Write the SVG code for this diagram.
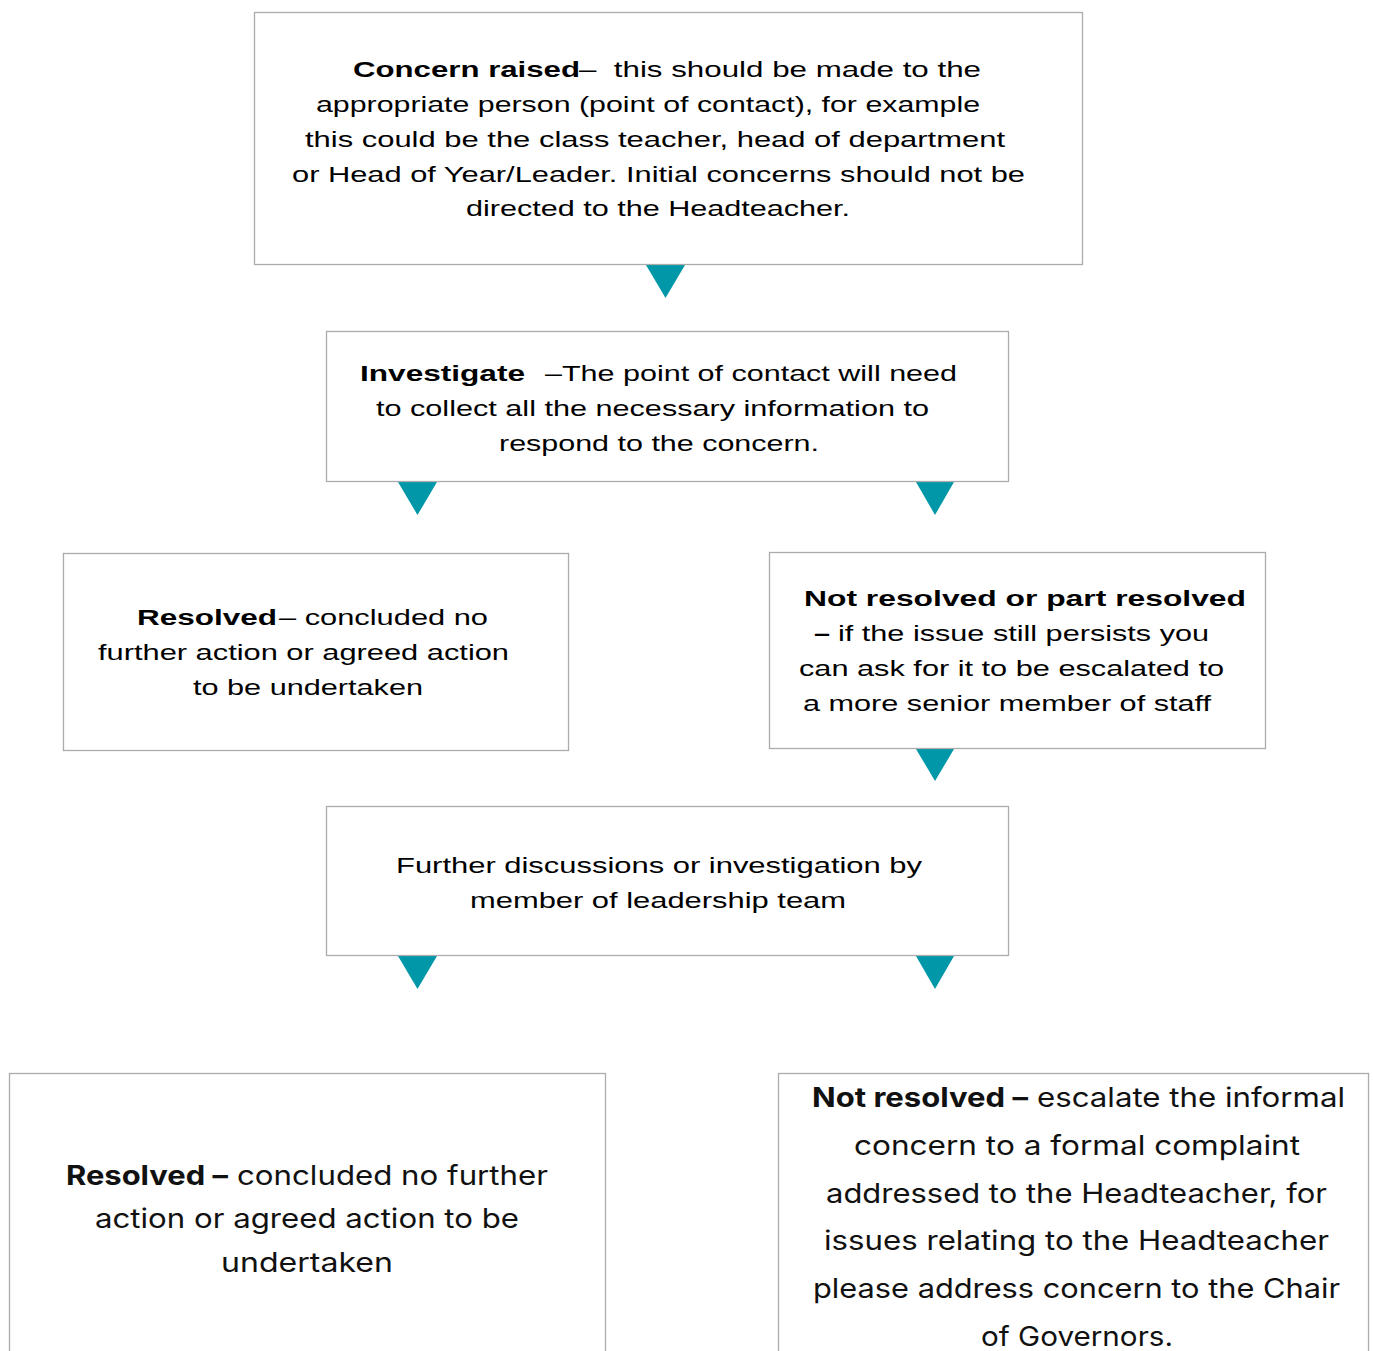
<svg xmlns="http://www.w3.org/2000/svg" width="1373" height="1351" viewBox="0 0 1373 1351">
<style>
.box{fill:#fff;stroke:#ABABAB;stroke-width:1.3}
.t{font-family:"Liberation Sans",Arial,sans-serif;font-size:22px;fill:#000}
.b{font-weight:bold}
.m{font-family:Inter,"Noto Sans",sans-serif;font-size:27px;fill:#111}
.arr{fill:#0098A8}
</style>
<rect width="1373" height="1351" fill="#fff"/>
<g id="connectors">
<polygon class="arr" points="646,265 685,265 665.5,298"/>
<polygon class="arr" points="398,482 437,482 417.5,515"/>
<polygon class="arr" points="916,482 954,482 935,515"/>
<polygon class="arr" points="916,749 954,749 935,781"/>
<polygon class="arr" points="398,956 437,956 417.5,989"/>
<polygon class="arr" points="916,956 954,956 935,989"/>
</g>
<g id="concern-raised">
<rect class="box" x="254.5" y="12.5" width="828" height="252"/>
<text class="t b" x="353" y="77" textLength="227" lengthAdjust="spacingAndGlyphs">Concern raised</text>
<text class="t" x="579" y="77" textLength="402" lengthAdjust="spacingAndGlyphs" xml:space="preserve">–  this should be made to the</text>
<text class="t" x="316" y="112" textLength="664" lengthAdjust="spacingAndGlyphs">appropriate person (point of contact), for example</text>
<text class="t" x="305" y="147" textLength="700" lengthAdjust="spacingAndGlyphs">this could be the class teacher, head of department</text>
<text class="t" x="292" y="182" textLength="733" lengthAdjust="spacingAndGlyphs">or Head of Year/Leader. Initial concerns should not be</text>
<text class="t" x="466" y="216" textLength="384" lengthAdjust="spacingAndGlyphs">directed to the Headteacher.</text>
</g>
<g id="investigate">
<rect class="box" x="326.5" y="331.5" width="682" height="150"/>
<text class="t b" x="360" y="381" textLength="165" lengthAdjust="spacingAndGlyphs">Investigate</text>
<text class="t" x="545" y="381" textLength="412" lengthAdjust="spacingAndGlyphs">–The point of contact will need</text>
<text class="t" x="376" y="416" textLength="553" lengthAdjust="spacingAndGlyphs">to collect all the necessary information to</text>
<text class="t" x="499" y="451" textLength="320" lengthAdjust="spacingAndGlyphs">respond to the concern.</text>
</g>
<g id="resolved-1">
<rect class="box" x="63.5" y="553.5" width="505" height="197"/>
<text class="t b" x="137" y="625" textLength="140" lengthAdjust="spacingAndGlyphs">Resolved</text>
<text class="t" x="279" y="625" textLength="209" lengthAdjust="spacingAndGlyphs">– concluded no</text>
<text class="t" x="98" y="660" textLength="411" lengthAdjust="spacingAndGlyphs">further action or agreed action</text>
<text class="t" x="193" y="695" textLength="230" lengthAdjust="spacingAndGlyphs">to be undertaken</text>
</g>
<g id="not-resolved-1">
<rect class="box" x="769.5" y="552.5" width="496" height="196"/>
<text class="t b" x="804" y="606" textLength="442" lengthAdjust="spacingAndGlyphs">Not resolved or part resolved</text>
<text class="t b" x="814" y="641" textLength="16" lengthAdjust="spacingAndGlyphs">–</text>
<text class="t" x="838" y="641" textLength="371" lengthAdjust="spacingAndGlyphs">if the issue still persists you</text>
<text class="t" x="799" y="676" textLength="425" lengthAdjust="spacingAndGlyphs">can ask for it to be escalated to</text>
<text class="t" x="803" y="711" textLength="408" lengthAdjust="spacingAndGlyphs">a more senior member of staff</text>
</g>
<g id="further-discussions">
<rect class="box" x="326.5" y="806.5" width="682" height="149"/>
<text class="t" x="396" y="873" textLength="526" lengthAdjust="spacingAndGlyphs">Further discussions or investigation by</text>
<text class="t" x="470" y="908" textLength="376" lengthAdjust="spacingAndGlyphs">member of leadership team</text>
</g>
<g id="resolved-2">
<rect class="box" x="9.5" y="1073.5" width="596" height="300"/>
<text class="m b" x="66" y="1185" textLength="162" lengthAdjust="spacingAndGlyphs">Resolved –</text>
<text class="m" x="237" y="1185" textLength="311" lengthAdjust="spacingAndGlyphs">concluded no further</text>
<text class="m" x="95" y="1228" textLength="424" lengthAdjust="spacingAndGlyphs">action or agreed action to be</text>
<text class="m" x="221" y="1272" textLength="172" lengthAdjust="spacingAndGlyphs">undertaken</text>
</g>
<g id="not-resolved-2">
<rect class="box" x="778.5" y="1073.5" width="590" height="300"/>
<text class="m b" x="812" y="1107" textLength="216" lengthAdjust="spacingAndGlyphs">Not resolved –</text>
<text class="m" x="1037" y="1107" textLength="308" lengthAdjust="spacingAndGlyphs">escalate the informal</text>
<text class="m" x="854" y="1155" textLength="446" lengthAdjust="spacingAndGlyphs">concern to a formal complaint</text>
<text class="m" x="826" y="1203" textLength="501" lengthAdjust="spacingAndGlyphs">addressed to the Headteacher, for</text>
<text class="m" x="824" y="1250" textLength="505" lengthAdjust="spacingAndGlyphs">issues relating to the Headteacher</text>
<text class="m" x="813" y="1298" textLength="527" lengthAdjust="spacingAndGlyphs">please address concern to the Chair</text>
<text class="m" x="981" y="1346" textLength="192" lengthAdjust="spacingAndGlyphs">of Governors.</text>
</g>
</svg>
